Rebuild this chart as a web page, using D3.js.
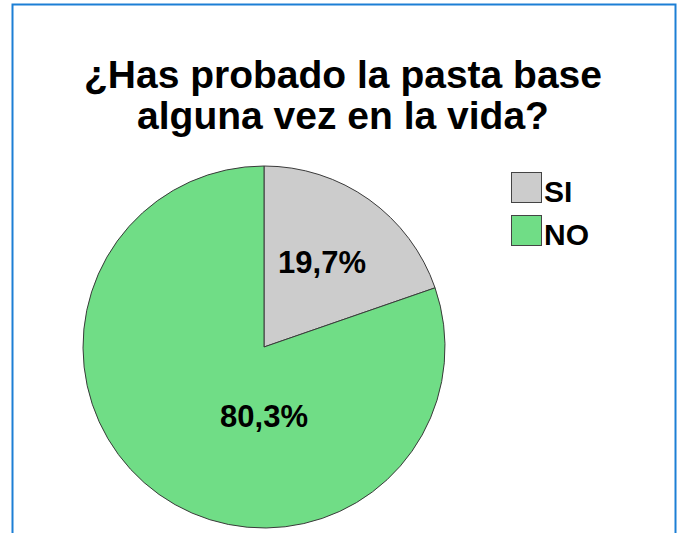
<!DOCTYPE html>
<html>
<head>
<meta charset="utf-8">
<script src="https://cdn.jsdelivr.net/npm/d3@7"></script>
<style>
  body { margin: 0; background: #fff; }
  text { font-family: "Liberation Sans", Arial, sans-serif; font-weight: bold; fill: #000; }
</style>
</head>
<body>
<div class="pie-chart"></div>
<script>
// DATA ------------------------------------
const categories = ["SI", "NO"]
const percents = [19.7, 80.3]
const slice_labels = ["19,7%", "80,3%"]
const title_lines = ["¿Has probado la pasta base", "alguna vez en la vida?"]

// CHART INIT ------------------------------
const width = 681
const height = 533

const svg = d3.select(".pie-chart").append("svg")
    .attr("width", width)
    .attr("height", height)

// frame
svg.append("rect")
    .attr("x", 12.5)
    .attr("y", 4.5)
    .attr("width", 663)
    .attr("height", 560)
    .attr("fill", "none")
    .attr("stroke", "#1c7fd5")
    .attr("stroke-width", 2)

// title
svg.append("text")
    .attr("x", 343)
    .attr("y", 88)
    .attr("text-anchor", "middle")
    .style("font-size", "39px")
    .selectAll("tspan")
    .data(title_lines)
    .join("tspan")
        .attr("x", 343)
        .attr("dy", (d, i) => i === 0 ? 0 : 41)
        .text(d => d)

const cScale = d3.scaleOrdinal()
    .domain(categories)
    .range(["#cccccc", "#70dd86"])

const data = categories.map((c, i) => ({cat: c, value: percents[i], label: slice_labels[i]}))

const pie = d3.pie()
    .value(d => d.value)
    .sort(null)

const radius = 181
const arc = d3.arc().innerRadius(0).outerRadius(radius)

const g = svg.append("g")
    .attr("transform", "translate(264,347)")

const arcs = pie(data)

g.selectAll("path")
    .data(arcs)
    .join("path")
        .attr("d", arc)
        .attr("fill", d => cScale(d.data.cat))
        .attr("stroke", "#3a3a3a")
        .attr("stroke-width", 1)

// label positions relative to centre (as placed in the original)
const label_pos = [[58, -74], [0, 80]]

g.selectAll("text")
    .data(arcs)
    .join("text")
        .attr("transform", (d, i) => `translate(${label_pos[i]})`)
        .attr("text-anchor", "middle")
        .style("font-size", "31px")
        .text(d => d.data.label)

// legend
const legend = svg.append("g")
    .attr("transform", "translate(511,172)")

const items = legend.selectAll("g")
    .data(categories)
    .join("g")
        .attr("transform", (d, i) => `translate(0,${i * 43})`)

items.append("rect")
    .attr("x", 0.5)
    .attr("y", 0.5)
    .attr("width", 30)
    .attr("height", 30)
    .attr("fill", d => cScale(d))
    .attr("stroke", "#444")
    .attr("stroke-width", 1)

items.append("text")
    .attr("x", 33)
    .attr("y", 30)
    .style("font-size", "30px")
    .text(d => d)
</script>
</body>
</html>
